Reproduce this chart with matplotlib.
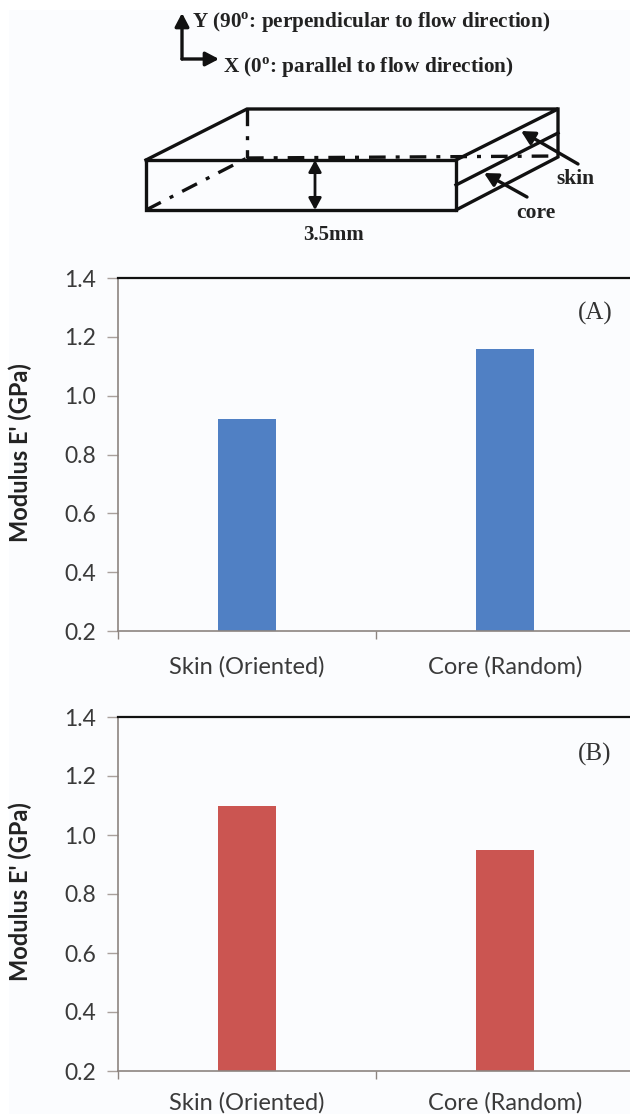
import matplotlib
matplotlib.use('Agg')
import matplotlib.pyplot as plt
from matplotlib.patches import Rectangle

W, H = 630, 1114

categories = ['Skin (Oriented)', 'Core (Random)']
values_a = [0.92, 1.16]
values_b = [1.10, 0.95]
yticks = [0.2, 0.4, 0.6, 0.8, 1.0, 1.2, 1.4]
panels = [
    ('(A)', values_a, '#5080c4', 278, 631, 0.90, 18),
    ('(B)', values_b, '#cb5551', 717, 1071, 0.893, 15),
]

# schematic outline in picture pixels
solid_lines = [
    [(146, 160), (456, 160), (456, 210), (146, 210), (146, 160)],
    [(146, 160), (247, 109), (558, 109), (456, 160)],
    [(558, 109), (558, 157), (456, 210)],
    [(558, 133), (456, 185)],
]
dashed_lines = [
    [(247, 109), (247, 158)],
    [(247, 158), (558, 156)],
    [(146, 210), (247, 158)],
]
arrows = [
    ((182, 59), (182, 13)),
    ((182, 59), (219, 59)),
    ((578, 164), (521, 131)),
    ((527, 197), (484, 173)),
]

plt.rcParams['mathtext.fontset'] = 'custom'
plt.rcParams['mathtext.bf'] = 'Liberation Serif:bold'
plt.rcParams['mathtext.rm'] = 'Liberation Serif:bold'

fig = plt.figure(figsize=(W / 100, H / 100), dpi=100, facecolor='white')
fig.add_artist(Rectangle((9 / W, 0), 1 - 9 / W, 1 - 10 / H, transform=fig.transFigure,
                         facecolor='#fbfcfe', edgecolor='none', zorder=-5))

# overlay for the drawing at the top, same coordinates as the picture
ov = fig.add_axes([0, 0, 1, 1], facecolor='none')
ov.set_xlim(0, W)
ov.set_ylim(H, 0)
ov.axis('off')

for pts in solid_lines:
    ov.plot([p[0] for p in pts], [p[1] for p in pts], color='#111111', lw=2.4,
            solid_joinstyle='miter')
for pts in dashed_lines:
    ov.plot([p[0] for p in pts], [p[1] for p in pts], color='#111111', lw=2.4,
            dashes=(5, 3, 1.2, 3))
for start, end in arrows:
    ov.annotate('', xy=end, xytext=start,
                arrowprops=dict(arrowstyle='-|>,head_width=0.42,head_length=0.8',
                                color='#111111', lw=2.4, shrinkA=0, shrinkB=0))
ov.annotate('', xy=(315, 160), xytext=(315, 210),
            arrowprops=dict(arrowstyle='<|-|>,head_width=0.38,head_length=0.7',
                            color='#111111', lw=2, shrinkA=0, shrinkB=0))

serif = dict(family='Liberation Serif', fontweight='bold', color='#222222', va='center')
ov.text(192, 23, r'Y (90$^{\mathbf{o}}$: perpendicular to flow direction)', fontsize=15.2, **serif)
ov.text(223, 68, r'X (0$^{\mathbf{o}}$: parallel to flow direction)', fontsize=15.3, **serif)
ov.text(303, 235, '3.5mm', fontsize=15, **serif)
ov.text(556, 179, 'skin', fontsize=15.5, **serif)
ov.text(516, 213, 'core', fontsize=15.5, **serif)

for label, vals, color, top, bottom, label_y, xpad in panels:
    ax = fig.add_axes([118 / W, 1 - bottom / H, 516 / W, (bottom - top) / H], facecolor='none')
    ax.bar(categories, vals, width=0.225, color=color)
    ax.set_xlim(-0.5, 1.5)
    ax.set_ylim(0.2, 1.4)
    ax.set_yticks(yticks)
    ax.set_yticklabels(['%.1f' % t for t in yticks])
    ax.set_xticks([-0.5, 0.5, 1.5], minor=True)
    ax.tick_params(axis='x', which='major', length=0, pad=xpad, labelsize=17, labelcolor='#3a3a3a')
    ax.tick_params(axis='x', which='minor', length=6, color='#8c8480', width=1)
    ax.tick_params(axis='y', length=8, color='#a8a09c', width=1, pad=8,
                   labelsize=16.5, labelcolor='#3a3a3a')
    for t in ax.get_xticklabels() + ax.get_yticklabels():
        t.set_family('Lato')
    ax.spines['right'].set_visible(False)
    ax.spines['top'].set_color('#111111')
    ax.spines['top'].set_linewidth(1.6)
    ax.spines['left'].set_color('#8c8480')
    ax.spines['left'].set_linewidth(1.2)
    ax.spines['bottom'].set_color('#8c8480')
    ax.spines['bottom'].set_linewidth(1.2)
    ax.text(0.924, label_y, label, transform=ax.transAxes, ha='center', va='center',
            family='Liberation Serif', fontsize=18, color='#333333')
    ov.text(20, (top + bottom) / 2 - 2, "Modulus E' (GPa)", rotation=90, ha='center', va='center',
            family='Lato', fontweight='bold', fontsize=17, color='#222222')

fig.savefig('out.png', dpi=100)
